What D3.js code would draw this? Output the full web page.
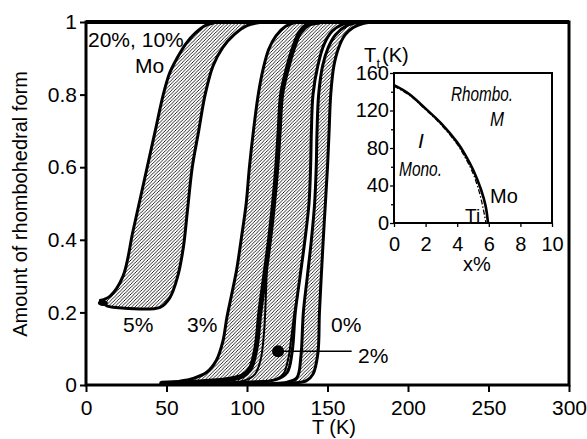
<!DOCTYPE html>
<html>
<head>
<meta charset="utf-8">
<script src="https://cdn.jsdelivr.net/npm/d3@7"></script>
<style>
  html, body { margin: 0; padding: 0; background: #fff; }
  svg { display: block; }
  text { font-family: "Liberation Sans", Arial, sans-serif; fill: #000; }
</style>
</head>
<body>
<svg id="chart" width="587" height="439"></svg>
<script>
// ---------------- DATA ----------------
const tTicks = [0, 50, 100, 150, 200, 250, 300];
const fTicks = [0, 0.2, 0.4, 0.6, 0.8, 1];
const fTickLabels = ["0", "0.2", "0.4", "0.6", "0.8", "1"];

// hysteresis branches [T (K), fraction rhombohedral]
const cool5 = [[9,0.233],[15,0.245],[23,0.30],[29,0.42],[34,0.52],[38,0.6],[43,0.7],[48,0.8],[52,0.86],[56.5,0.9],[62,0.94],[68,0.97],[74,0.99],[82,1]];
const heat5 = [[9,0.233],[13,0.218],[20,0.213],[46,0.214],[52,0.24],[57,0.30],[60.5,0.38],[63,0.48],[66,0.6],[70,0.7],[74,0.8],[79,0.88],[85,0.93],[92,0.965],[100,0.99],[110,1]];
const cool3 = [[47,0.005],[58,0.01],[66.5,0.018],[75,0.035],[81,0.068],[85,0.12],[87.5,0.186],[90.5,0.25],[93.5,0.316],[97,0.42],[99.5,0.5],[101.5,0.6],[104,0.70],[107,0.8],[110,0.87],[113.5,0.925],[118,0.962],[124,0.988],[131,1]];
const heat3 = [[47,0.005],[70,0.008],[88,0.015],[97,0.025],[102,0.045],[105.5,0.1],[108,0.2],[111,0.3],[114,0.4],[116.5,0.5],[118.5,0.6],[120,0.7],[121.5,0.8],[125,0.87],[129,0.93],[133,0.972],[138,0.993],[145,1]];
const heat2 = [[60,0.004],[100,0.008],[118,0.015],[125,0.035],[128,0.09],[130,0.2],[133,0.3],[136,0.4],[138.5,0.5],[139.5,0.6],[140,0.7],[141,0.8],[144,0.88],[148,0.94],[153,0.975],[159,0.993],[167,1]];
const cool0 = [[90,0.003],[125,0.008],[131,0.02],[133.5,0.08],[135,0.2],[137.5,0.3],[140,0.4],[142,0.5],[143,0.6],[143.5,0.7],[144.5,0.8],[147,0.88],[150.5,0.93],[155,0.965],[162,0.99],[170,1]];
const heat0 = [[100,0.003],[130,0.006],[137,0.012],[141,0.03],[144,0.086],[145,0.2],[146.5,0.33],[148,0.45],[150,0.6],[151,0.7],[152,0.8],[154,0.88],[157,0.93],[161,0.965],[166,0.985],[172,0.996],[180,1]];
const extraA = [[70,0.004],[98,0.012],[105,0.03],[108.5,0.07],[110.5,0.14],[111.5,0.22],[112.5,0.35]];
const extraB = [[95,0.004],[117,0.014],[122.5,0.03],[125.5,0.07],[127.5,0.13],[129.5,0.2],[131.5,0.25]];
const marker2 = [119.3, 0.093];
const marker2End = 165;

// inset: transition temperature vs x%
const xTicks = [0, 2, 4, 6, 8, 10];
const ttTicks = [0, 40, 80, 120, 160];
const ttMinor = [20, 60, 100, 140];
const moLine = [[0,147],[0.5,142.5],[1,137],[2,122],[3,106],[4,86],[4.5,73],[5,57],[5.5,36],[5.8,18],[5.95,0]];
const tiLine = [[0,146],[1,136],[2,121],[3,104.5],[4,84],[4.5,70],[5,53],[5.4,33],[5.65,15],[5.82,0]];

// ---------------- LAYOUT ----------------
const svg = d3.select("#chart");
const X0 = 86, X1 = 569, Y0 = 385, Y1 = 22;
const x = d3.scaleLinear().domain([0, 300]).range([X0, X1]);
const y = d3.scaleLinear().domain([0, 1]).range([Y0, Y1]);

const FS = "21px";
const TFS = "20px";

// hatch pattern
const defs = svg.append("defs");
const pat = defs.append("pattern").attr("id", "hatch")
  .attr("patternUnits", "userSpaceOnUse").attr("width", 3.4).attr("height", 3.4);
pat.append("path").attr("d", "M-1,1 l2,-2 M0,3.4 l3.4,-3.4 M2.4,4.4 l2,-2")
  .attr("stroke", "#000").attr("stroke-width", 0.85);
defs.append("clipPath").attr("id", "plotclip").append("rect")
  .attr("x", X0).attr("y", Y1).attr("width", X1 - X0).attr("height", Y0 - Y1);

const line = d3.line().x(d => x(d[0])).y(d => y(d[1])).curve(d3.curveCatmullRom.alpha(0.5));
const loopPath = (a, b) => line(a.concat(b.slice().reverse())) + "Z";

const g = svg.append("g").attr("clip-path", "url(#plotclip)");

// fills
[[cool5, heat5], [cool3, heat3], [heat3, heat2], [cool0, heat0]].forEach(([a, b]) => {
  g.append("path").attr("d", loopPath(a, b)).attr("fill", "url(#hatch)").attr("stroke", "none");
});

// branch lines
const curves = [
  [extraA, 2], [extraB, 2],
  [cool5, 3], [heat5, 3], [cool3, 3], [heat3, 5], [heat2, 3],
  [cool0, 3], [heat0, 3]
];
curves.forEach(([c, w]) => {
  g.append("path").attr("d", line(c)).attr("fill", "none")
    .attr("stroke", "#000").attr("stroke-width", w)
    .attr("stroke-linejoin", "round").attr("stroke-linecap", "round");
});
// 5% tip blob
g.append("ellipse").attr("cx", x(10.5)).attr("cy", y(0.226)).attr("rx", 5).attr("ry", 3).attr("fill", "#000");

// 2% marker
svg.append("line").attr("x1", x(marker2[0])).attr("x2", x(marker2End))
  .attr("y1", y(marker2[1])).attr("y2", y(marker2[1]))
  .attr("stroke", "#000").attr("stroke-width", 1.5);
svg.append("circle").attr("cx", x(marker2[0])).attr("cy", y(marker2[1])).attr("r", 6).attr("fill", "#000");

// frame
svg.append("rect").attr("x", X0).attr("y", Y1).attr("width", X1 - X0).attr("height", Y0 - Y1)
  .attr("fill", "none").attr("stroke", "#000").attr("stroke-width", 3);
svg.append("line").attr("x1", X0).attr("x2", X1).attr("y1", Y1).attr("y2", Y1)
  .attr("stroke", "#000").attr("stroke-width", 4);

// axes
const xAxis = svg.append("g").attr("transform", `translate(0,${Y0})`)
  .call(d3.axisBottom(x).tickValues(tTicks).tickFormat(d3.format("d")).tickSize(7).tickSizeOuter(0).tickPadding(8));
const yAxis = svg.append("g").attr("transform", `translate(${X0},0)`)
  .call(d3.axisLeft(y).tickValues(fTicks).tickFormat((d, i) => fTickLabels[i]).tickSize(6).tickSizeOuter(0).tickPadding(3));
[xAxis, yAxis].forEach(a => {
  a.select(".domain").remove();
  a.selectAll("line").attr("stroke", "#000").attr("stroke-width", 2);
  a.selectAll("text").style("font-size", FS).style("font-family", "'Liberation Sans', Arial, sans-serif").attr("fill", "#000");
});

svg.append("text").attr("x", 334).attr("y", 434).attr("text-anchor", "middle").style("font-size", TFS).text("T (K)");
svg.append("text").attr("transform", "translate(27,204) rotate(-90)").attr("text-anchor", "middle").style("font-size", TFS).text("Amount of rhombohedral form");

// annotations
const ann = [
  ["20%, 10%", 88, 47], ["Mo", 135, 73], ["5%", 123, 332], ["3%", 187, 332],
  ["0%", 331, 332], ["2%", 358, 363]
];
ann.forEach(([t, ax, ay]) => svg.append("text").attr("x", ax).attr("y", ay).style("font-size", FS).text(t));

// ---------------- INSET ----------------
const IX0 = 394, IX1 = 552, IY0 = 223, IY1 = 73;
const ix = d3.scaleLinear().domain([0, 10]).range([IX0, IX1]);
const iy = d3.scaleLinear().domain([0, 160]).range([IY0, IY1]);
const IFS = "20px";

svg.append("rect").attr("x", IX0).attr("y", IY1).attr("width", IX1 - IX0).attr("height", IY0 - IY1)
  .attr("fill", "#fff").attr("stroke", "#000").attr("stroke-width", 2);

const iline = d3.line().x(d => ix(d[0])).y(d => iy(d[1])).curve(d3.curveCatmullRom.alpha(0.5));
svg.append("path").attr("d", iline(tiLine)).attr("fill", "none").attr("stroke", "#000")
  .attr("stroke-width", 1.3).attr("stroke-dasharray", "5,2,1.5,2");
svg.append("path").attr("d", iline(moLine)).attr("fill", "none").attr("stroke", "#000").attr("stroke-width", 2.6);

const ixAxis = svg.append("g").attr("transform", `translate(0,${IY0})`)
  .call(d3.axisBottom(ix).tickValues(xTicks).tickFormat(d3.format("d")).tickSize(4).tickSizeOuter(0).tickPadding(10));
const iyAxis = svg.append("g").attr("transform", `translate(${IX0},0)`)
  .call(d3.axisLeft(iy).tickValues(ttTicks).tickFormat(d3.format("d")).tickSize(4).tickSizeOuter(0).tickPadding(1));
const iyMinor = svg.append("g").attr("transform", `translate(${IX0},0)`)
  .call(d3.axisLeft(iy).tickValues(ttMinor).tickFormat("").tickSize(3).tickSizeOuter(0));
[ixAxis, iyAxis, iyMinor].forEach(a => {
  a.select(".domain").remove();
  a.selectAll("line").attr("stroke", "#000").attr("stroke-width", 1.3);
  a.selectAll("text").style("font-size", IFS).style("font-family", "'Liberation Sans', Arial, sans-serif").attr("fill", "#000");
});

svg.append("text").attr("x", 477).attr("y", 271).attr("text-anchor", "middle").style("font-size", IFS).text("x%");
svg.append("text").attr("x", 364).attr("y", 62).style("font-size", IFS).text("T");
svg.append("text").attr("x", 376.5).attr("y", 68).style("font-size", "13px").text("t");
svg.append("text").attr("x", 382).attr("y", 62).style("font-size", IFS).text("(K)");

const iann = [
  ["Rhombo.", 451, 101, true, 62, 21], ["M", 490, 126, true, 14, 21], ["I", 418, 148, true, 0, 21],
  ["Mono.", 399, 176, true, 43, 21], ["Mo", 490, 203, false, 0, 20], ["Ti", 465, 222, false, 0, 19]
];
iann.forEach(([t, ax, ay, it, len, fs]) => {
  const tx = svg.append("text").attr("x", ax).attr("y", ay)
    .style("font-size", fs + "px").style("font-style", it ? "italic" : "normal").text(t);
  if (len) tx.attr("textLength", len).attr("lengthAdjust", "spacingAndGlyphs");
});
</script>
</body>
</html>
